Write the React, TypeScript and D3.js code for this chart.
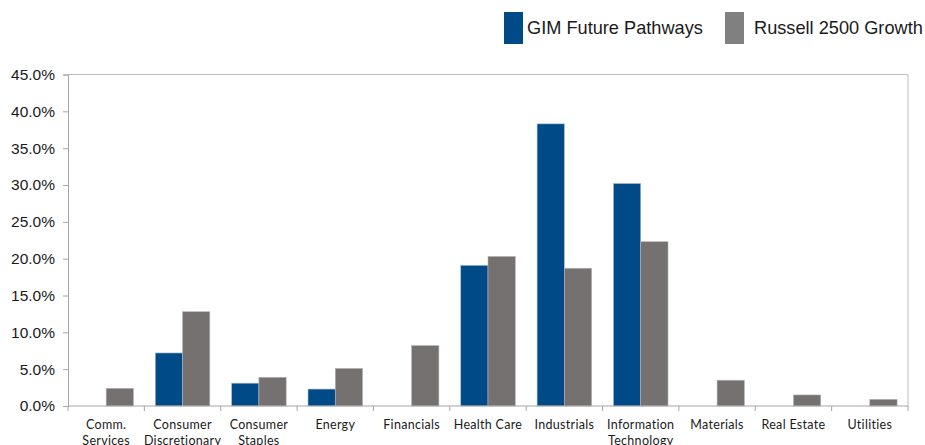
import { useEffect, useRef } from 'react';
import * as d3 from 'd3';

const categories = [
  ['Comm.', 'Services'],
  ['Consumer', 'Discretionary'],
  ['Consumer', 'Staples'],
  ['Energy'],
  ['Financials'],
  ['Health Care'],
  ['Industrials'],
  ['Information', 'Technology'],
  ['Materials'],
  ['Real Estate'],
  ['Utilities'],
];
const seriesNames = ['GIM Future Pathways', 'Russell 2500 Growth'];
const gimValues = [0, 7.2, 3.1, 2.3, 0, 19.1, 38.3, 30.2, 0, 0, 0];
const russellValues = [2.4, 12.8, 3.9, 5.1, 8.2, 20.3, 18.7, 22.3, 3.5, 1.5, 0.9];
const yTicks = [0, 5, 10, 15, 20, 25, 30, 35, 40, 45];
const barColors = ['#004B87', '#767171'];
const legendColors = ['#004B87', '#808080'];

export default function App() {
  const svgRef = useRef<SVGSVGElement>(null);

  useEffect(() => {
    if (!svgRef.current) return;
    const width = 925;
    const height = 445;
    const plot = { left: 68, right: 908, top: 74.5, bottom: 406 };

    const svg = d3.select(svgRef.current);
    svg.selectAll('*').remove();

    const x = d3
      .scaleBand<number>()
      .domain(d3.range(categories.length))
      .range([plot.left, plot.right])
      .padding(0);
    const xInner = d3
      .scaleBand<number>()
      .domain([0, 1])
      .range([0, x.bandwidth()])
      .paddingInner(0)
      .paddingOuter(0.4);
    const y = d3.scaleLinear().domain([0, 45]).range([plot.bottom, plot.top]);

    // plot border (top, right)
    svg
      .append('path')
      .attr('d', `M${plot.left},${plot.top}H${plot.right}V${plot.bottom}`)
      .attr('fill', 'none')
      .attr('stroke', '#bfbfbf')
      .attr('stroke-width', 1);

    // bars
    const series = [gimValues, russellValues];
    series.forEach((vals, si) => {
      const data = vals.map((v, i) => ({ v, i })).filter((d) => d.v > 0);
      svg
        .append('g')
        .selectAll('rect')
        .data(data)
        .enter()
        .append('rect')
        .attr('x', (d) => (x(d.i) as number) + (xInner(si) as number))
        .attr('y', (d) => y(d.v))
        .attr('width', xInner.bandwidth())
        .attr('height', (d) => y(0) - y(d.v))
        .attr('fill', barColors[si])
        .attr('stroke', si === 0 ? '#a9bfd6' : '#b5b3b3')
        .attr('stroke-width', 0.6);
    });

    // y axis
    const yAxis = svg
      .append('g')
      .attr('transform', `translate(${plot.left},0)`)
      .call(
        d3
          .axisLeft(y)
          .tickValues(yTicks)
          .tickSize(5)
          .tickPadding(8)
          .tickFormat((d) => `${(d as number).toFixed(1)}%`)
      );
    yAxis.select('.domain').attr('stroke', '#a6a6a6');
    yAxis.selectAll('.tick line').attr('stroke', '#a6a6a6');
    yAxis
      .selectAll('.tick text')
      .attr('fill', '#1a1a1a')
      .style('font-family', 'Liberation Sans, Arial, sans-serif')
      .style('font-size', '15.5px');

    // x axis
    const xAxisG = svg.append('g');
    xAxisG
      .append('line')
      .attr('x1', plot.left)
      .attr('x2', plot.right)
      .attr('y1', plot.bottom)
      .attr('y2', plot.bottom)
      .attr('stroke', '#a6a6a6');
    const tickPos = d3.range(categories.length + 1).map((i) =>
      i < categories.length ? (x(i) as number) : plot.right
    );
    xAxisG
      .selectAll('line.tk')
      .data(tickPos)
      .enter()
      .append('line')
      .attr('class', 'tk')
      .attr('x1', (d) => d)
      .attr('x2', (d) => d)
      .attr('y1', plot.bottom)
      .attr('y2', plot.bottom + 5)
      .attr('stroke', '#a6a6a6');
    const labels = xAxisG
      .selectAll('text')
      .data(categories)
      .enter()
      .append('text')
      .attr('x', (_d, i) => (x(i) as number) + x.bandwidth() / 2)
      .attr('y', 429)
      .attr('text-anchor', 'middle')
      .attr('fill', '#1a1a1a')
      .style('font-family', 'Lato, Carlito, sans-serif')
      .style('font-size', '12.5px')
      .style('letter-spacing', '0.3px');
    labels
      .selectAll('tspan')
      .data((d) => d)
      .enter()
      .append('tspan')
      .attr('x', function () {
        return (this.parentNode as SVGTextElement).getAttribute('x');
      })
      .attr('dy', (_d, i) => (i === 0 ? 0 : 16))
      .text((d) => d);

    // legend
    const legendItems = [
      { x: 504, tx: 527 },
      { x: 725, tx: 754 },
    ];
    const legend = svg.append('g');
    seriesNames.forEach((name, i) => {
      legend
        .append('rect')
        .attr('x', legendItems[i].x)
        .attr('y', 12)
        .attr('width', 19)
        .attr('height', 32)
        .attr('fill', legendColors[i]);
      legend
        .append('text')
        .attr('x', legendItems[i].tx)
        .attr('y', 34)
        .attr('fill', '#1a1a1a')
        .style('font-family', 'Liberation Sans, Arial, sans-serif')
        .style('font-size', '18.2px')
        .text(name);
    });

    svg.attr('width', width).attr('height', height);
  }, []);

  return (
    <svg
      ref={svgRef}
      width={925}
      height={445}
      style={{ position: 'absolute', left: 0, top: 0, background: '#fff' }}
    />
  );
}
